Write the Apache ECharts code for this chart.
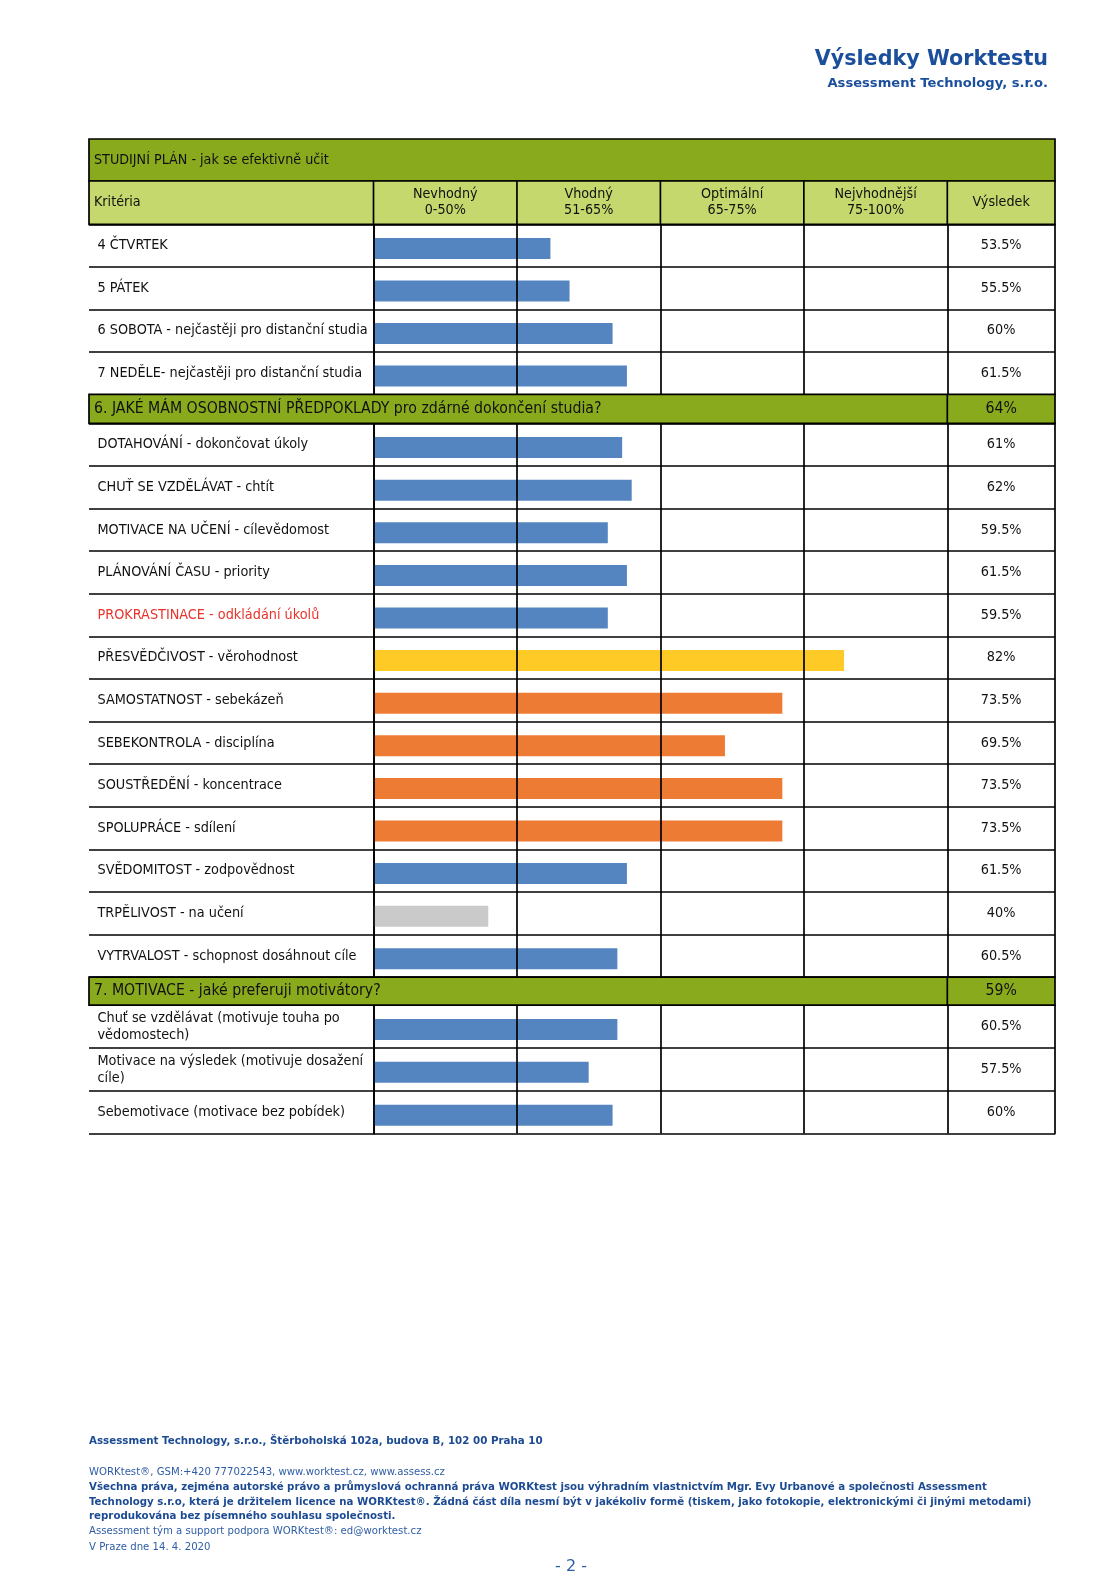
<!DOCTYPE html>
<html><head><meta charset="utf-8">
<script src="https://cdn.jsdelivr.net/npm/echarts@6/dist/echarts.min.js"></script>
<style>html,body{margin:0;padding:0;background:#fff}#c{width:1119px;height:1582px}</style>
</head><body><div id="c"></div>
<script>
// ---------- data ----------
const pageTitle = 'Výsledky Worktestu';
const pageSubtitle = 'Assessment Technology, s.r.o.';
const sectionTitles = [
  'STUDIJNÍ PLÁN - jak se efektivně učit',
  '6. JAKÉ MÁM OSOBNOSTNÍ PŘEDPOKLADY pro zdárné dokončení studia?',
  '7. MOTIVACE - jaké preferuji motivátory?'
];
const sectionResults = ['', '64%', '59%'];
const headerLabels = ['Kritéria', 'Nevhodný\n0-50%', 'Vhodný\n51-65%', 'Optimální\n65-75%', 'Nejvhodnější\n75-100%', 'Výsledek'];
const bandLimits = [0, 50, 65, 75, 100];

const planCriteria = ['4 ČTVRTEK', '5 PÁTEK', '6 SOBOTA - nejčastěji pro distanční studia', '7 NEDĚLE- nejčastěji pro distanční studia'];
const planValues = [53.5, 55.5, 60, 61.5];

const traitCriteria = [
  'DOTAHOVÁNÍ - dokončovat úkoly', 'CHUŤ SE VZDĚLÁVAT - chtít', 'MOTIVACE NA UČENÍ - cílevědomost',
  'PLÁNOVÁNÍ ČASU - priority', 'PROKRASTINACE - odkládání úkolů', 'PŘESVĚDČIVOST - věrohodnost',
  'SAMOSTATNOST - sebekázeň', 'SEBEKONTROLA - disciplína', 'SOUSTŘEDĚNÍ - koncentrace',
  'SPOLUPRÁCE - sdílení', 'SVĚDOMITOST - zodpovědnost', 'TRPĚLIVOST - na učení',
  'VYTRVALOST - schopnost dosáhnout cíle'
];
const traitValues = [61, 62, 59.5, 61.5, 59.5, 82, 73.5, 69.5, 73.5, 73.5, 61.5, 40, 60.5];

const motivCriteria = ['Chuť se vzdělávat (motivuje touha po\nvědomostech)', 'Motivace na výsledek (motivuje dosažení\ncíle)', 'Sebemotivace (motivace bez pobídek)'];
const motivValues = [60.5, 57.5, 60];

const highlightedCriteria = ['PROKRASTINACE - odkládání úkolů'];

const footerLines = [
  'Assessment Technology, s.r.o., Štěrboholská 102a, budova B, 102 00 Praha 10',
  'WORKtest®, GSM:+420 777022543, www.worktest.cz, www.assess.cz',
  'Všechna práva, zejména autorské právo a průmyslová ochranná práva WORKtest jsou výhradním vlastnictvím Mgr. Evy Urbanové a společnosti Assessment',
  'Technology s.r.o, která je držitelem licence na WORKtest®. Žádná část díla nesmí být v jakékoliv formě (tiskem, jako fotokopie, elektronickými či jinými metodami)',
  'reprodukována bez písemného souhlasu společnosti.',
  'Assessment tým a support podpora WORKtest®: ed@worktest.cz',
  'V Praze dne 14. 4. 2020'
];
const pageNumber = '- 2 -';

// ---------- layout ----------
const L = 89, R = 1055, C0 = 373.5, COL = 143.45, RES = C0 + 4 * COL;
const FONT = "'DejaVu Sans Condensed','DejaVu Sans',sans-serif";
const FONT_B = "'DejaVu Sans','Noto Sans',sans-serif";
const LW = 1.7;
const BAR_SHIFT = 3;
const xMin = -(C0 - L) / COL, xMax = (R - C0) / COL;
const footerLayout = [[1441, true, 10.3], [1472, false, 10.15], [1487, true, 10.22], [1502, true, 10.22], [1516.5, true, 10.25], [1531.5, false, 10.15], [1547, false, 10.15]];
const groupLayout = [{top: 224.3, height: 170}, {top: 423.3, height: 553.8}, {top: 1005.1, height: 128.5}];
const sectionLayout = [{top: 139, height: 42}, {top: 394.3, height: 29}, {top: 977.1, height: 28}];
const headerRow = {top: 181, height: 43.3};

function toBand(v) {
  for (let i = 0; i < 4; i++) {
    if (v <= bandLimits[i + 1]) return i + (v - bandLimits[i]) / (bandLimits[i + 1] - bandLimits[i]);
  }
  return 4;
}
function barColor(v) {
  if (v < 50) return '#CACACA';
  if (v <= 65) return '#5585C1';
  if (v <= 75) return '#EE7B33';
  return '#FDCA26';
}
const fmt = v => v + '%';

const groups = [
  {cats: planCriteria, vals: planValues},
  {cats: traitCriteria, vals: traitValues},
  {cats: motivCriteria, vals: motivValues}
];

const grid = [], xAxis = [], yAxis = [], series = [];
groups.forEach((g, i) => {
  const lay = groupLayout[i];
  const gi = grid.length;
  grid.push({left: L, top: lay.top, width: R - L, height: lay.height});
  xAxis.push({type: 'value', gridIndex: gi, min: xMin, max: xMax, show: false});
  const yl = yAxis.length;
  yAxis.push({
    type: 'category', gridIndex: gi, inverse: true, data: g.cats,
    axisLine: {show: true, lineStyle: {color: '#000', width: LW}},
    axisTick: {show: false},
    splitLine: {show: true, lineStyle: {color: '#000', width: LW}},
    axisLabel: {
      inside: true, margin: 8.5, align: 'left', interval: 0,
      fontFamily: FONT, fontSize: 14.3, lineHeight: 17,
      color: (val) => highlightedCriteria.includes(val) ? '#E8332A' : '#111'
    }
  });
  yAxis.push({
    type: 'category', gridIndex: gi, position: 'right', inverse: true, data: g.vals.map(fmt),
    axisLine: {show: true, lineStyle: {color: '#000', width: LW}},
    axisTick: {show: false}, splitLine: {show: false},
    axisLabel: {inside: true, margin: (R - RES) / 2, align: 'center', interval: 0, fontFamily: FONT, fontSize: 14.3, color: '#111'}
  });
  series.push({
    type: 'scatter', xAxisIndex: xAxis.length - 1, yAxisIndex: yl, symbolSize: 0, silent: true,
    data: g.vals.map((v, j) => [toBand(v), j]),
    markLine: {
      silent: true, symbol: 'none', label: {show: false},
      lineStyle: {color: '#000', width: LW, type: 'solid'},
      data: [0, 1, 2, 3, 4].map(x => ({xAxis: x}))
    }
  });
  const gb = grid.length;
  grid.push({left: L, top: lay.top + BAR_SHIFT, width: R - L, height: lay.height});
  xAxis.push({type: 'value', gridIndex: gb, min: xMin, max: xMax, show: false});
  yAxis.push({type: 'category', gridIndex: gb, inverse: true, data: g.cats, show: false});
  series.push({
    type: 'bar', xAxisIndex: xAxis.length - 1, yAxisIndex: yAxis.length - 1, barWidth: 21, silent: true,
    data: g.vals.map(v => ({value: toBand(v), itemStyle: {color: barColor(v)}}))
  });
});

// ---------- graphic ----------
const graphic = [];
const stroke = {stroke: '#000', lineWidth: LW};
graphic.push({type: 'text', right: 1119 - 1048, top: 49, style: {text: pageTitle, fill: '#1B4F9C', font: "bold 20.7px " + FONT_B}});
graphic.push({type: 'text', right: 1119 - 1048, top: 77, style: {text: pageSubtitle, fill: '#1B4F9C', font: "bold 13.1px " + FONT_B}});
sectionLayout.forEach((s, i) => {
  graphic.push({type: 'rect', shape: {x: L, y: s.top, width: R - L, height: s.height}, style: Object.assign({fill: '#8AAA1E'}, stroke), z: 1});
  const big = i > 0;
  graphic.push({type: 'text', x: L + 5, y: s.top + s.height / 2, z: 2,
    style: {text: sectionTitles[i], fill: '#111', font: (big ? 15.7 : 14.2) + 'px ' + FONT, textVerticalAlign: 'middle'}});
  if (big) {
    graphic.push({type: 'line', shape: {x1: RES, y1: s.top, x2: RES, y2: s.top + s.height}, style: stroke, z: 2});
    graphic.push({type: 'text', x: (RES + R) / 2, y: s.top + s.height / 2, z: 2,
      style: {text: sectionResults[i], fill: '#111', font: '15.7px ' + FONT, textAlign: 'center', textVerticalAlign: 'middle'}});
  }
});
const hTop = headerRow.top, hH = headerRow.height;
graphic.push({type: 'rect', shape: {x: L, y: hTop, width: R - L, height: hH}, style: Object.assign({fill: '#C5D86D'}, stroke), z: 1});
const colEdges = [L, C0, C0 + COL, C0 + 2 * COL, C0 + 3 * COL, RES, R];
colEdges.slice(1, 6).forEach(x => graphic.push({type: 'line', shape: {x1: x, y1: hTop, x2: x, y2: hTop + hH}, style: stroke, z: 2}));
headerLabels.forEach((t, k) => {
  const left = k === 0;
  graphic.push({type: 'text', x: left ? L + 5 : (colEdges[k] + colEdges[k + 1]) / 2, y: hTop + hH / 2, z: 2,
    style: {text: t, fill: '#111', font: '14.2px ' + FONT, lineHeight: 16.2, textAlign: left ? 'left' : 'center', textVerticalAlign: 'middle'}});
});
footerLines.forEach((t, k) => {
  const [y, bold, size] = footerLayout[k];
  graphic.push({type: 'text', x: L, y: y, style: {text: t, fill: bold ? '#1D4B93' : '#2F5DA5',
    font: (bold ? 'bold ' : '') + size + 'px ' + FONT_B, textVerticalAlign: 'middle'}});
});
graphic.push({type: 'text', x: 571, y: 1567, style: {text: pageNumber, fill: '#2F5DA5', font: '16px ' + FONT_B, textAlign: 'center', textVerticalAlign: 'middle'}});

const chart = echarts.init(document.getElementById('c'), null, {renderer: 'canvas'});
chart.setOption({backgroundColor: '#fff', animation: false, grid, xAxis, yAxis, series, graphic});
</script></body></html>
